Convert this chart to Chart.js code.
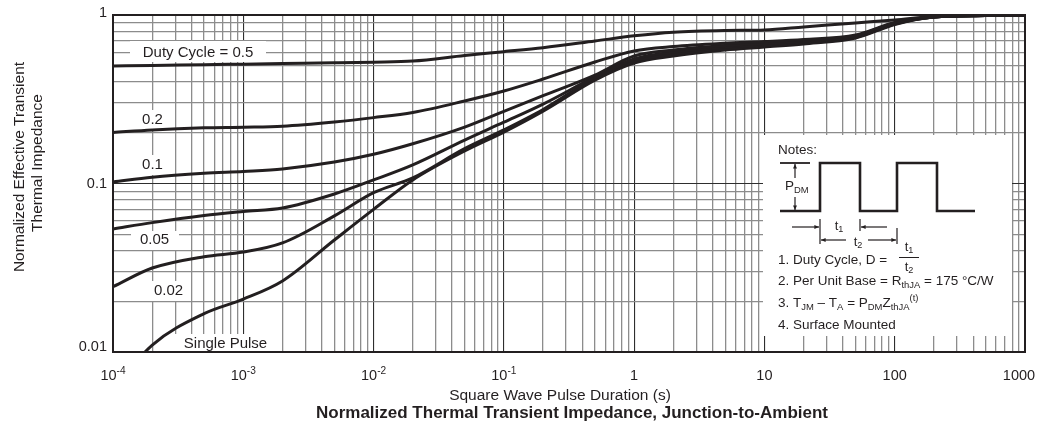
<!DOCTYPE html>
<html>
<head>
<meta charset="utf-8">
<title>Normalized Thermal Transient Impedance, Junction-to-Ambient</title>
<script src="https://cdn.jsdelivr.net/npm/chart.js@4.4.1/dist/chart.umd.min.js"></script>
<style>
  html, body { margin: 0; padding: 0; background: #fff; }
  #wrap { width: 1041px; height: 432px; position: relative; }
</style>
</head>
<body>
<div id="wrap"><canvas id="zthChart"></canvas></div>
<script>
// square wave pulse duration (s)
const pulseTimes = [1e-4, 2e-4, 5e-4, 1e-3, 2e-3, 5e-3, 1e-2, 2e-2, 5e-2, 0.1, 0.2, 0.5, 1, 2, 5, 10, 20, 50, 100, 200, 500, 1000];

// normalized effective transient thermal impedance, one list per duty cycle
const duty05 = [0.498, 0.502, 0.507, 0.511, 0.515, 0.520, 0.525, 0.533, 0.575, 0.606, 0.640, 0.701, 0.752, 0.790, 0.809, 0.815, 0.849, 0.897, 0.934, 0.980, 1.0, 1.0];
const duty02 = [0.201, 0.208, 0.214, 0.216, 0.219, 0.232, 0.246, 0.264, 0.309, 0.354, 0.417, 0.526, 0.612, 0.650, 0.680, 0.696, 0.716, 0.761, 0.903, 0.973, 0.993, 1.0];
const duty01 = [0.102, 0.109, 0.115, 0.118, 0.122, 0.134, 0.149, 0.172, 0.216, 0.268, 0.332, 0.440, 0.571, 0.620, 0.659, 0.677, 0.701, 0.751, 0.897, 0.973, 0.993, 1.0];
const duty005 = [0.0537, 0.0586, 0.0646, 0.0682, 0.0715, 0.0866, 0.105, 0.129, 0.181, 0.231, 0.296, 0.429, 0.548, 0.603, 0.646, 0.664, 0.691, 0.741, 0.890, 0.973, 0.993, 1.0];
const duty002 = [0.0244, 0.0315, 0.0368, 0.0392, 0.0444, 0.0642, 0.0882, 0.108, 0.161, 0.208, 0.275, 0.423, 0.533, 0.587, 0.633, 0.655, 0.682, 0.736, 0.884, 0.973, 0.993, 1.0];
const singlePulse = [0.006, 0.0110, 0.0169, 0.0206, 0.0264, 0.0462, 0.0702, 0.105, 0.156, 0.202, 0.269, 0.411, 0.519, 0.571, 0.620, 0.646, 0.673, 0.730, 0.878, 0.973, 0.993, 1.0];

// tick labels
const xTickValues = [1e-4, 1e-3, 1e-2, 1e-1, 1, 10, 100, 1000];
const xTickBase = ['10', '10', '10', '10', '1', '10', '100', '1000'];
const xTickExp = ['-4', '-3', '-2', '-1', '', '', '', ''];
const yTickValues = [1, 0.1, 0.01];
const yTickLabels = ['1', '0.1', '0.01'];

const FONT = "'Liberation Sans', Arial, Helvetica, sans-serif";
const INK = '#231f20';

// log grid: 1..9 in every decade
function logGrid(minExp, maxExp) {
    const vals = [];
    for (let e = minExp; e < maxExp; e++) {
        for (let k = 1; k <= 9; k++) vals.push(+(k * Math.pow(10, e)).toPrecision(3));
    }
    vals.push(Math.pow(10, maxExp));
    return vals;
}
const isDecade = v => Math.abs(Math.log10(v) - Math.round(Math.log10(v))) < 1e-6;

function series(label, values) {
    return {
        label: label,
        data: pulseTimes.map((t, i) => ({ x: t, y: values[i] })),
        borderColor: INK,
        borderWidth: 3,
        pointRadius: 0,
        fill: false,
        cubicInterpolationMode: 'monotone'
    };
}

// text placed on the plot (page px)
const curveTags = [
    { text: 'Duty Cycle = 0.5', x: 198, y: 53, box: [130, 41, 136, 21] },
    { text: '0.2', x: 152.5, y: 120, box: [138, 110, 30, 20] },
    { text: '0.1', x: 152.5, y: 165, box: [138, 155, 30, 20] },
    { text: '0.05', x: 154.5, y: 240, box: [131, 231, 48, 19] },
    { text: '0.02', x: 168.5, y: 291, box: [150, 281, 38, 20] },
    { text: 'Single Pulse', x: 225.5, y: 344, box: [172, 334, 110, 18] }
];

function rich(ctx, parts, x, y, size, align) {
    const small = size * 0.7;
    let total = 0;
    parts.forEach(p => {
        ctx.font = (p[1] ? small : size) + 'px ' + FONT;
        total += ctx.measureText(p[0]).width;
    });
    let cx = align === 'center' ? x - total / 2 : (align === 'right' ? x - total : x);
    ctx.textAlign = 'left';
    ctx.textBaseline = 'middle';
    parts.forEach(p => {
        ctx.font = (p[1] ? small : size) + 'px ' + FONT;
        let dy = 0;
        if (p[1] === 'sub') dy = size * 0.3;
        if (p[1] === 'sup') dy = -size * 0.35;
        ctx.fillText(p[0], cx, y + dy);
        cx += ctx.measureText(p[0]).width;
    });
}

function arrow(ctx, x1, y1, x2, y2) {
    const a = Math.atan2(y2 - y1, x2 - x1), s = 5;
    ctx.beginPath();
    ctx.moveTo(x1, y1);
    ctx.lineTo(x2, y2);
    ctx.stroke();
    ctx.beginPath();
    ctx.moveTo(x2, y2);
    ctx.lineTo(x2 - s * Math.cos(a - 0.4), y2 - s * Math.sin(a - 0.4));
    ctx.lineTo(x2 - s * Math.cos(a + 0.4), y2 - s * Math.sin(a + 0.4));
    ctx.closePath();
    ctx.fill();
}

function drawNotes(ctx) {
    ctx.fillStyle = INK;
    ctx.strokeStyle = INK;
    rich(ctx, [['Notes:', '']], 778, 150, 13.5, 'left');

    // pulse train
    ctx.lineWidth = 2.6;
    ctx.beginPath();
    ctx.moveTo(780, 211);
    ctx.lineTo(820, 211); ctx.lineTo(820, 163); ctx.lineTo(860, 163); ctx.lineTo(860, 211);
    ctx.lineTo(897, 211); ctx.lineTo(897, 163); ctx.lineTo(937, 163); ctx.lineTo(937, 211);
    ctx.lineTo(975, 211);
    ctx.stroke();
    ctx.lineWidth = 1.8;
    ctx.beginPath(); ctx.moveTo(780, 163); ctx.lineTo(810, 163); ctx.stroke();

    // P_DM dimension
    ctx.lineWidth = 1.2;
    arrow(ctx, 795, 178, 795, 164);
    arrow(ctx, 795, 197, 795, 210);
    rich(ctx, [['P', ''], ['DM', 'sub']], 785, 186, 13.5, 'left');

    // t1 and t2 dimensions
    ctx.beginPath();
    ctx.moveTo(820, 219); ctx.lineTo(820, 244);
    ctx.moveTo(860, 219); ctx.lineTo(860, 231);
    ctx.moveTo(897, 228); ctx.lineTo(897, 244);
    ctx.stroke();
    arrow(ctx, 792, 227, 819, 227);
    arrow(ctx, 887, 227, 861, 227);
    rich(ctx, [['t', ''], ['1', 'sub']], 839, 226, 13, 'center');
    arrow(ctx, 846, 240, 821, 240);
    arrow(ctx, 868, 240, 896, 240);
    rich(ctx, [['t', ''], ['2', 'sub']], 858, 242, 13, 'center');

    rich(ctx, [['1. Duty Cycle, D =', '']], 778, 260, 13.5, 'left');
    rich(ctx, [['t', ''], ['1', 'sub']], 909, 247, 13, 'center');
    ctx.lineWidth = 1;
    ctx.beginPath(); ctx.moveTo(899, 257.5); ctx.lineTo(919, 257.5); ctx.stroke();
    rich(ctx, [['t', ''], ['2', 'sub']], 909, 267, 13, 'center');

    rich(ctx, [['2. Per Unit Base = R', ''], ['thJA', 'sub'], [' = 175 \u00B0C/W', '']], 778, 281, 13.5, 'left');
    rich(ctx, [['3. T', ''], ['JM', 'sub'], [' \u2013 T', ''], ['A', 'sub'], [' = P', ''], ['DM', 'sub'],
               ['Z', ''], ['thJA', 'sub'], ['(t)', 'sup']], 778, 303, 13.5, 'left');
    rich(ctx, [['4. Surface Mounted', '']], 778, 325, 13.5, 'left');
}

const overlayPlugin = {
    id: 'overlay',
    beforeDatasetsDraw(chart) {
        const ctx = chart.ctx;
        ctx.save();
        ctx.fillStyle = '#ffffff';
        curveTags.forEach(t => ctx.fillRect(t.box[0], t.box[1], t.box[2], t.box[3]));
        ctx.fillRect(763, 135, 249, 201); // notes panel
        ctx.restore();
    },
    afterDraw(chart) {
        const ctx = chart.ctx;
        const area = chart.chartArea;
        const xs = chart.scales.x, ys = chart.scales.y;
        ctx.save();

        // frame
        ctx.strokeStyle = INK;
        ctx.lineWidth = 2;
        ctx.strokeRect(area.left, area.top, area.right - area.left, area.bottom - area.top);

        ctx.fillStyle = INK;
        curveTags.forEach(t => rich(ctx, [[t.text, '']], t.x, t.y, 15, 'center'));

        // tick labels
        xTickValues.forEach((v, i) => {
            let px = xs.getPixelForValue(v);
            if (i === xTickValues.length - 1) px -= 6;
            rich(ctx, [[xTickBase[i], ''], [xTickExp[i], xTickExp[i] ? 'sup' : '']], px, 376, 14.5, 'center');
        });
        yTickValues.forEach((v, i) => {
            let py = ys.getPixelForValue(v);
            if (i === 0) py -= 2;
            if (i === yTickValues.length - 1) py -= 5;
            rich(ctx, [[yTickLabels[i], '']], 107, py, 14.5, 'right');
        });

        // axis titles
        ctx.textAlign = 'center';
        ctx.textBaseline = 'middle';
        ctx.font = '15.5px ' + FONT;
        ctx.fillText('Square Wave Pulse Duration (s)', 560, 396);
        ctx.save();
        ctx.translate(20, 167);
        ctx.rotate(-Math.PI / 2);
        ctx.fillText('Normalized Effective Transient', 0, 0);
        ctx.restore();
        ctx.save();
        ctx.translate(38, 163);
        ctx.rotate(-Math.PI / 2);
        ctx.fillText('Thermal Impedance', 0, 0);
        ctx.restore();

        ctx.font = 'bold 17px ' + FONT;
        ctx.fillText('Normalized Thermal Transient Impedance, Junction-to-Ambient', 572, 413, 532);

        drawNotes(ctx);
        ctx.restore();
    }
};

const gridOpts = {
    drawTicks: false,
    color: c => (c.tick && isDecade(c.tick.value)) ? '#2e2e2e' : '#8c8c8c',
    lineWidth: c => (c.tick && isDecade(c.tick.value)) ? 1.1 : 1.3
};

new Chart(document.getElementById('zthChart').getContext('2d'), {
    type: 'line',
    data: {
        datasets: [
            series('Duty Cycle = 0.5', duty05),
            series('0.2', duty02),
            series('0.1', duty01),
            series('0.05', duty005),
            series('0.02', duty002),
            series('Single Pulse', singlePulse)
        ]
    },
    options: {
        responsive: true,
        maintainAspectRatio: false,
        animation: false,
        layout: { padding: { left: 113, right: 16, top: 15, bottom: 80 } },
        plugins: { legend: { display: false }, tooltip: { enabled: false }, title: { display: false } },
        scales: {
            x: {
                type: 'logarithmic',
                min: 1e-4,
                max: 1000,
                ticks: { display: false },
                border: { display: false },
                grid: gridOpts,
                afterBuildTicks: s => { s.ticks = logGrid(-4, 3).map(v => ({ value: v })); },
                afterFit: s => { s.height = 0; }
            },
            y: {
                type: 'logarithmic',
                min: 0.01,
                max: 1,
                ticks: { display: false },
                border: { display: false },
                grid: gridOpts,
                afterBuildTicks: s => { s.ticks = logGrid(-2, 0).map(v => ({ value: v })); },
                afterFit: s => { s.width = 0; }
            }
        }
    },
    plugins: [overlayPlugin]
});
</script>
</body>
</html>
